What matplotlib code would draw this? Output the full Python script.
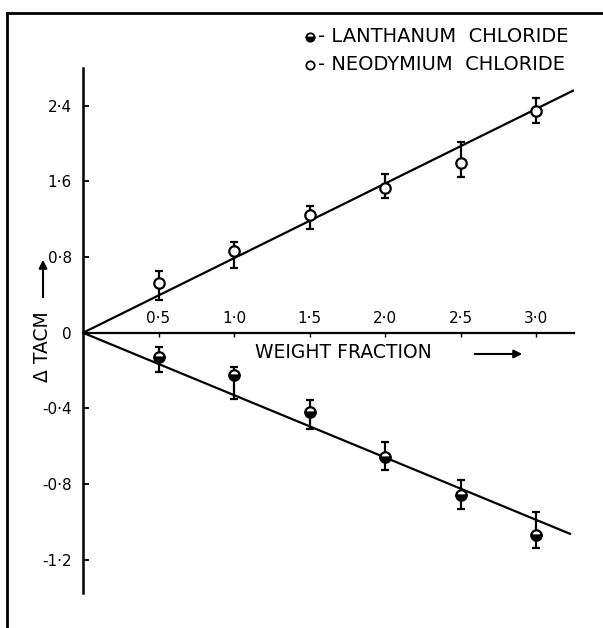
import numpy as np
import matplotlib
matplotlib.use("Agg")
import matplotlib.pyplot as plt
from matplotlib.lines import Line2D

# ---- data ----
weight_fraction = [0.5, 1.0, 1.5, 2.0, 2.5, 3.0]
nd_values = [0.53, 0.86, 1.25, 1.53, 1.80, 2.34]
nd_lower = [0.35, 0.69, 1.10, 1.43, 1.65, 2.22]
nd_upper = [0.65, 0.96, 1.34, 1.68, 2.02, 2.48]
la_values = [-0.127, -0.222, -0.42, -0.656, -0.857, -1.069]
la_lower = [-0.206, -0.35, -0.51, -0.725, -0.93, -1.14]
la_upper = [-0.074, -0.18, -0.354, -0.58, -0.78, -0.95]
nd_fit_x = [0.0, 3.245]
nd_fit_y = [0.0, 2.56]
la_fit_x = [0.0, 3.225]
la_fit_y = [0.0, -1.063]
y_ticks = [-1.2, -0.8, -0.4, 0.0, 0.8, 1.6, 2.4]
y_ticklabels = ["-1·2", "-0·8", "-0·4", "0", "0·8", "1·6", "2·4"]
x_ticks = [0.5, 1.0, 1.5, 2.0, 2.5, 3.0]
x_ticklabels = ["0·5", "1·0", "1·5", "2·0", "2·5", "3·0"]
legend_labels = ["- LANTHANUM  CHLORIDE", "- NEODYMIUM  CHLORIDE"]

W, H = 603, 628
fig = plt.figure(figsize=(W / 100, H / 100), dpi=100)

# axes placement (pixels)
x0_px, xend_px = 83, 573.75
ybot_px, ytop_px = 593, 68
ax = fig.add_axes([x0_px / W, 1 - ybot_px / H, (xend_px - x0_px) / W, (ybot_px - ytop_px) / H])

def fwd(y):
    y = np.asarray(y, dtype=float)
    return np.where(y >= 0, y, 2.0 * y)

def inv(y):
    y = np.asarray(y, dtype=float)
    return np.where(y >= 0, y, y / 2.0)

ax.set_yscale('function', functions=(fwd, inv))
ax.set_xlim(0, 3.25)
ax.set_ylim(-1.376, 2.80)

for s in ['top', 'right']:
    ax.spines[s].set_visible(False)
ax.spines['bottom'].set_position(('data', 0))
ax.spines['left'].set_linewidth(1.8)
ax.spines['bottom'].set_linewidth(1.6)

ax.set_yticks(y_ticks)
ax.set_yticklabels(y_ticklabels)
ax.yaxis.set_minor_locator(matplotlib.ticker.NullLocator())
ax.tick_params(axis='y', direction='in', length=4, width=1.3, pad=8, labelsize=11)
ax.set_xticks(x_ticks)
ax.set_xticklabels([])
ax.tick_params(axis='x', direction='out', length=3, width=1.0)

for xv, lab in zip(x_ticks, x_ticklabels):
    ax.annotate(lab, (xv, 0), xytext=(0, 5), textcoords='offset points',
                ha='center', va='bottom', fontsize=11)

# fit lines
ax.plot(nd_fit_x, nd_fit_y, color='black', lw=1.6)
ax.plot(la_fit_x, la_fit_y, color='black', lw=1.6)

# error bars + markers
nd_err = [np.array(nd_values) - np.array(nd_lower), np.array(nd_upper) - np.array(nd_values)]
la_err = [np.array(la_values) - np.array(la_lower), np.array(la_upper) - np.array(la_values)]
ax.errorbar(weight_fraction, nd_values, yerr=nd_err, fmt='none', ecolor='black',
            elinewidth=1.6, capsize=3, capthick=1.6, zorder=3)
ax.errorbar(weight_fraction, la_values, yerr=la_err, fmt='none', ecolor='black',
            elinewidth=1.6, capsize=3, capthick=1.6, zorder=3)
ax.plot(weight_fraction, nd_values, 'o', ms=7.5, mfc='white', mec='black', mew=1.6, zorder=4)
ax.plot(weight_fraction, la_values, 'o', ms=7.5, mfc='black', mec='black', mew=1.6,
        fillstyle='bottom', markerfacecoloralt='white', zorder=4)

# x label + arrow
fig.text(343 / W, 1 - 353 / H, "WEIGHT FRACTION", ha='center', va='center', fontsize=13.5)
fig.add_artist(matplotlib.patches.FancyArrowPatch((472 / W, 1 - 354 / H), (525 / W, 1 - 354 / H),
               transform=fig.transFigure, arrowstyle='-|>', mutation_scale=12, lw=1.5, color='black'))

# y label + arrow
fig.text(42 / W, 1 - 347 / H, "Δ TACM", rotation=90, ha='center', va='center', fontsize=13.5)
fig.add_artist(matplotlib.patches.FancyArrowPatch((43 / W, 1 - 300 / H), (43 / W, 1 - 257 / H),
               transform=fig.transFigure, arrowstyle='-|>', mutation_scale=12, lw=1.5, color='black'))

# legend (manual)
fig.add_artist(Line2D([310 / W], [1 - 37 / H], transform=fig.transFigure, marker='o', ms=6,
                      mfc='black', mec='black', mew=1.3, fillstyle='bottom', markerfacecoloralt='white'))
fig.add_artist(Line2D([310 / W], [1 - 65 / H], transform=fig.transFigure, marker='o', ms=6,
                      mfc='white', mec='black', mew=1.3))
fig.text(318 / W, 1 - 37 / H, legend_labels[0], ha='left', va='center', fontsize=14)
fig.text(318 / W, 1 - 65 / H, legend_labels[1], ha='left', va='center', fontsize=14)

# page border (top and left)
fig.add_artist(Line2D([7 / W, 1.0], [1 - 13 / H, 1 - 13 / H], transform=fig.transFigure, color='black', lw=2))
fig.add_artist(Line2D([7 / W, 7 / W], [1 - 13 / H, 0.0], transform=fig.transFigure, color='black', lw=2))

fig.savefig("out.png", dpi=100)
